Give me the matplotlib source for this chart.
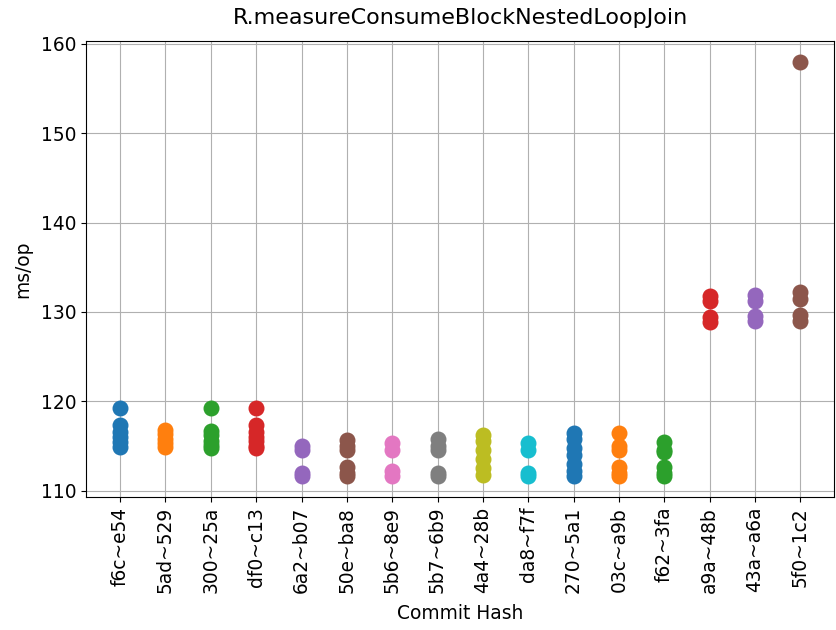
import matplotlib
matplotlib.use("Agg")
import matplotlib.pyplot as plt

commits = ["f6c~e54", "5ad~529", "300~25a", "df0~c13", "6a2~b07", "50e~ba8",
           "5b6~8e9", "5b7~6b9", "4a4~28b", "da8~f7f", "270~5a1", "03c~a9b",
           "f62~3fa", "a9a~48b", "43a~a6a", "5f0~1c2"]

# ms/op samples per commit
f6c_e54 = [119.3, 117.3, 116.6, 116.0, 115.4, 114.9]
ad5_529 = [116.8, 116.3, 115.8, 115.3, 114.9]
c300_25a = [119.3, 116.7, 116.2, 115.6, 115.1, 114.8]
df0_c13 = [119.3, 117.3, 116.6, 116.0, 115.5, 115.0, 114.8]
a62_b07 = [115.0, 114.5, 112.0, 111.6]
e50_ba8 = [115.7, 115.0, 114.5, 112.6, 112.0, 111.6]
b56_8e9 = [115.3, 114.6, 112.2, 111.6]
b57_6b9 = [115.8, 115.0, 114.5, 112.0, 111.6]
a44_28b = [116.2, 115.5, 114.5, 113.5, 112.5, 111.8]
da8_f7f = [115.3, 114.5, 112.0, 111.6]
c270_5a1 = [116.5, 115.8, 114.8, 114.0, 113.0, 112.2, 111.6]
c03_a9b = [116.4, 115.0, 114.5, 112.7, 112.0, 111.6]
f62_3fa = [115.4, 114.6, 114.3, 112.7, 112.0, 111.6]
a9a_48b = [131.8, 131.2, 129.4, 128.9]
a43_a6a = [131.9, 131.2, 129.5, 129.0]
f50_1c2 = [158.0, 132.2, 131.5, 129.6, 129.0]

samples = [f6c_e54, ad5_529, c300_25a, df0_c13, a62_b07, e50_ba8, b56_8e9,
           b57_6b9, a44_28b, da8_f7f, c270_5a1, c03_a9b, f62_3fa, a9a_48b,
           a43_a6a, f50_1c2]

fig, ax = plt.subplots(figsize=(8.36, 6.3), dpi=100)
for name, vals in zip(commits, samples):
    ax.scatter([name] * len(vals), vals, s=110, zorder=3)

ax.grid(True)
ax.set_axisbelow(True)
ax.set_title("R.measureConsumeBlockNestedLoopJoin", fontsize=16, pad=12)
ax.set_xlabel("Commit Hash", fontsize=13.4, labelpad=8)
ax.set_ylabel("ms/op", fontsize=13.4, labelpad=6)
ax.tick_params(axis="x", labelrotation=90, labelsize=13.4)
ax.tick_params(axis="y", labelsize=13.4)

plt.subplots_adjust(left=0.103, right=0.998, top=0.935, bottom=0.211)
plt.savefig("out.png")
